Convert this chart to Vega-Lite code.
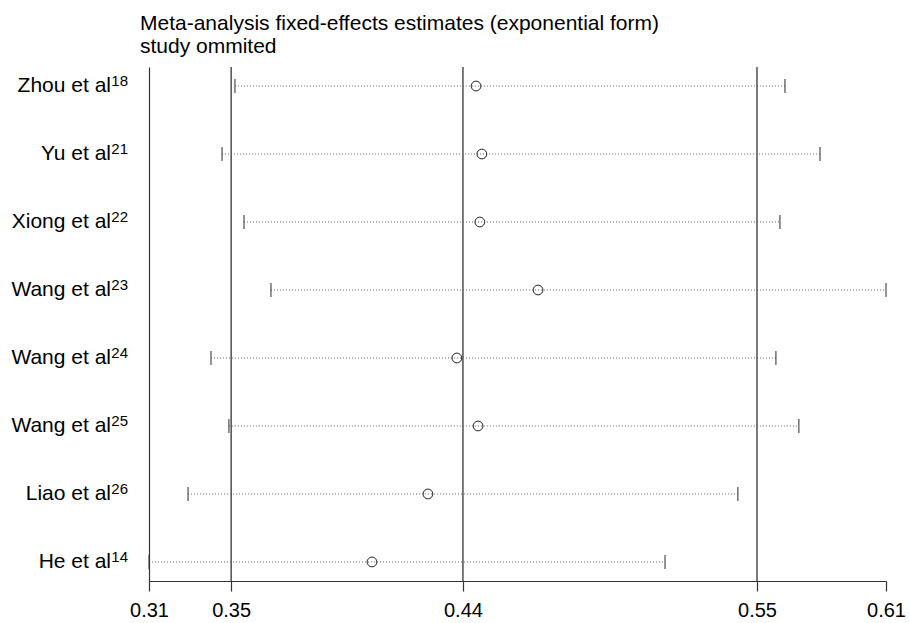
{
  "$schema": "https://vega.github.io/schema/vega-lite/v6.json",
  "width": 737,
  "height": 514,
  "autosize": {"type": "none"},
  "padding": {"left": 149, "top": 67, "right": 23, "bottom": 42},
  "background": "white",
  "config": {
    "view": {"stroke": null},
    "font": "Liberation Sans",
    "axisY": {"title": null, "domain": true, "domainColor": "#333333", "domainWidth": 1.2, "ticks": false, "labels": false, "grid": false}
  },
  "title": {
    "text": ["Meta-analysis fixed-effects estimates (exponential form)", "study ommited"],
    "anchor": "start",
    "frame": "group",
    "fontSize": 21,
    "fontWeight": "normal",
    "font": "Liberation Sans",
    "color": "black",
    "lineHeight": 23,
    "baseline": "alphabetic",
    "offset": 14,
    "dx": -9,
    "dy": 22
  },
  "datasets": {
    "studies": [
      {"study": "Zhou et al18", "name": "Zhou et al", "ref": "18", "lower": 0.3471, "est": 0.4428, "upper": 0.5654},
      {"study": "Yu et al21", "name": "Yu et al", "ref": "21", "lower": 0.3420, "est": 0.4451, "upper": 0.5793},
      {"study": "Xiong et al22", "name": "Xiong et al", "ref": "22", "lower": 0.3507, "est": 0.4443, "upper": 0.5634},
      {"study": "Wang et al23", "name": "Wang et al", "ref": "23", "lower": 0.3614, "est": 0.4674, "upper": 0.6055},
      {"study": "Wang et al24", "name": "Wang et al", "ref": "24", "lower": 0.3376, "est": 0.4352, "upper": 0.5618},
      {"study": "Wang et al25", "name": "Wang et al", "ref": "25", "lower": 0.3447, "est": 0.4436, "upper": 0.5709},
      {"study": "Liao et al26", "name": "Liao et al", "ref": "26", "lower": 0.3285, "est": 0.4237, "upper": 0.5467},
      {"study": "He et al14", "name": "He et al", "ref": "14", "lower": 0.3130, "est": 0.4015, "upper": 0.5178}
    ],
    "overall": [
      {"v": 0.3456},
      {"v": 0.4376},
      {"v": 0.5543}
    ]
  },
  "layer": [
    {
      "data": {"name": "overall"},
      "mark": {"type": "rule", "color": "#222222", "strokeWidth": 1.2},
      "encoding": {
        "x": {
          "field": "v",
          "type": "quantitative",
          "scale": {"domain": [0.313, 0.6055], "nice": false, "zero": false},
          "axis": {
            "title": null,
            "domain": true,
            "domainColor": "#333333",
            "domainWidth": 1.2,
            "ticks": true,
            "tickColor": "#333333",
            "tickWidth": 1.2,
            "tickSize": 10,
            "grid": false,
            "labelFontSize": 20,
            "labelPadding": 9,
            "labelFlush": false,
            "labelOverlap": false,
            "labelColor": "black",
            "labelFont": "Liberation Sans",
            "values": [0.313, 0.3456, 0.4376, 0.5543, 0.6055],
            "labelExpr": "format(datum.value, '.2f')"
          }
        }
      }
    },
    {
      "data": {"name": "studies"},
      "mark": {"type": "rule", "color": "#666666", "strokeWidth": 1, "strokeDash": [1, 2]},
      "encoding": {
        "x": {"field": "lower", "type": "quantitative"},
        "x2": {"field": "upper"},
        "y": {"field": "study", "type": "nominal", "sort": null, "scale": {"type": "point", "padding": 0.28}}
      }
    },
    {
      "data": {"name": "studies"},
      "mark": {"type": "tick", "color": "#333333", "size": 14, "thickness": 1.5, "orient": "vertical"},
      "encoding": {
        "x": {"field": "lower", "type": "quantitative"},
        "y": {"field": "study", "type": "nominal", "sort": null}
      }
    },
    {
      "data": {"name": "studies"},
      "mark": {"type": "tick", "color": "#333333", "size": 14, "thickness": 1.5, "orient": "vertical"},
      "encoding": {
        "x": {"field": "upper", "type": "quantitative"},
        "y": {"field": "study", "type": "nominal", "sort": null}
      }
    },
    {
      "data": {"name": "studies"},
      "mark": {"type": "point", "shape": "circle", "filled": false, "size": 95, "color": "#222222", "strokeWidth": 1, "opacity": 1},
      "encoding": {
        "x": {"field": "est", "type": "quantitative"},
        "y": {"field": "study", "type": "nominal", "sort": null}
      }
    },
    {
      "data": {"name": "studies"},
      "mark": {"type": "text", "align": "right", "baseline": "alphabetic", "dx": -38, "dy": 6, "fontSize": 21, "font": "Liberation Sans", "color": "black"},
      "encoding": {
        "x": {"datum": 0.313},
        "y": {"field": "study", "type": "nominal", "sort": null},
        "text": {"field": "name"}
      }
    },
    {
      "data": {"name": "studies"},
      "mark": {"type": "text", "align": "right", "baseline": "alphabetic", "dx": -21, "dy": 0, "fontSize": 15, "font": "Liberation Sans", "color": "black"},
      "encoding": {
        "x": {"datum": 0.313},
        "y": {"field": "study", "type": "nominal", "sort": null},
        "text": {"field": "ref"}
      }
    }
  ]
}
